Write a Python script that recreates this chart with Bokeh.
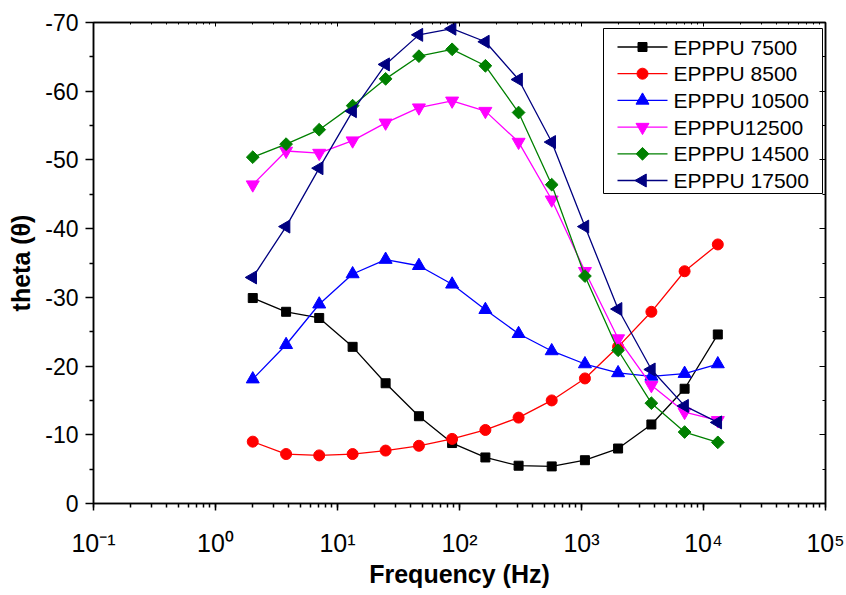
import math
from bokeh.plotting import figure
from bokeh.models import (Range1d, FixedTicker, LinearAxis, LogAxis, LogTicker,
                          LinearScale, CustomJSTickFormatter)
from bokeh.core.properties import value
from bokeh.embed import file_html
from bokeh.resources import INLINE

# ---- data ----
freq = [2.02, 3.79, 7.08, 13.3, 24.8, 46.5, 87.0, 163, 305, 570, 1067, 1995, 3740, 7000, 13100]
s7500 = [-29.9, -27.9, -27.0, -22.8, -17.5, -12.7, -8.8, -6.7, -5.5, -5.4, -6.3, -8.0, -11.5, -16.7, -24.6]
s8500 = [-9.0, -7.2, -7.0, -7.2, -7.7, -8.4, -9.4, -10.7, -12.5, -15.0, -18.2, -22.8, -27.9, -33.8, -37.7]
s10500 = [-18.1, -23.1, -29.0, -33.4, -35.5, -34.6, -31.9, -28.2, -24.7, -22.2, -20.3, -19.0, -18.5, -18.9, -20.3]
s12500 = [-46.4, -51.3, -51.0, -52.8, -55.4, -57.6, -58.6, -57.1, -52.6, -44.2, -33.8, -24.0, -17.2, -13.3, -12.1]
s14500 = [-50.4, -52.3, -54.4, -57.9, -61.8, -65.1, -66.1, -63.7, -56.9, -46.4, -33.1, -22.3, -14.6, -10.4, -8.9]
s17500 = [-32.9, -40.3, -48.8, -57.1, -63.9, -68.2, -69.1, -67.2, -61.7, -52.6, -40.3, -28.3, -19.5, -14.2, -11.8]
series_names = ["EPPPU 7500", "EPPPU 8500", "EPPPU 10500", "EPPPU12500", "EPPPU 14500", "EPPPU 17500"]
y_ticks = [0, -10, -20, -30, -40, -50, -60, -70]
y_tick_labels = ["0", "-10", "-20", "-30", "-40", "-50", "-60", "-70"]
y_minor = [-5, -15, -25, -35, -45, -55, -65]
x_exponents = [-1, 0, 1, 2, 3, 4, 5]
x_tick_labels = ["10\u207b\u00b9", "10\u2070", "10\u00b9", "10\u00b2", "10\u00b3", "10\u2074", "10\u2075"]
x_label = "Frequency (Hz)"
y_label = "theta (\u03b8)"

FONT = "Liberation Sans"
FW, FH = 732, 481  # frame size in px

p = figure(width=846, height=595, x_axis_type="log",
           x_range=Range1d(0.1, 1e5), y_range=Range1d(0, -70),
           output_backend="svg", toolbar_location=None,
           min_border_left=93, min_border_right=21, min_border_top=22,
           min_border_bottom=92)
p.extra_x_ranges = {"px": Range1d(0, FW)}
p.extra_y_ranges = {"px": Range1d(0, FH)}
p.extra_x_scales = {"px": LinearScale()}
p.extra_y_scales = {"px": LinearScale()}
p.grid.visible = False
p.outline_line_color = "black"
p.outline_line_width = 1.5

# y axis
ya = p.yaxis[0]
ya.ticker = FixedTicker(ticks=y_ticks, minor_ticks=y_minor)
ya.major_label_overrides = {t: s for t, s in zip(y_ticks, y_tick_labels)}
ya.major_tick_out = 8
ya.major_tick_in = 0
ya.minor_tick_out = 4
ya.minor_tick_in = 0
ya.axis_line_width = 1.5
ya.major_tick_line_width = 1.5
ya.minor_tick_line_width = 1.5
ya.major_label_text_font = FONT
ya.major_label_text_font_size = "23px"
ya.major_label_text_color = "black"
ya.major_label_standoff = 7
ya.axis_label = y_label
ya.axis_label_text_font = FONT
ya.axis_label_text_font_style = "bold"
ya.axis_label_text_font_size = "25px"
ya.axis_label_text_color = "black"
ya.axis_label_standoff = 7

# x axis
xa = p.xaxis[0]
xa.ticker = LogTicker(desired_num_ticks=7, num_minor_ticks=10)
xa.formatter = CustomJSTickFormatter(
    args=dict(exps=x_exponents, labs=x_tick_labels),
    code="""
const e = Math.round(Math.log10(tick));
const i = exps.indexOf(e);
return i >= 0 ? labs[i] : "";
""")
xa.major_tick_out = 7
xa.major_tick_in = 0
xa.minor_tick_out = 4
xa.minor_tick_in = 0
xa.axis_line_width = 1.5
xa.major_tick_line_width = 1.5
xa.minor_tick_line_width = 1.5
xa.major_label_text_font = FONT
xa.major_label_text_font_size = "25px"
xa.major_label_text_color = "black"
xa.major_label_standoff = 18
xa.axis_label = x_label
xa.axis_label_text_font = FONT
xa.axis_label_text_font_style = "bold"
xa.axis_label_text_font_size = "25px"
xa.axis_label_text_color = "black"
xa.axis_label_standoff = 0

# mirror axes
ra = LinearAxis(ticker=FixedTicker(ticks=y_ticks, minor_ticks=y_minor),
                major_label_text_font_size="1px", major_label_text_alpha=0,
                major_label_standoff=0, major_tick_in=6, major_tick_out=0,
                minor_tick_in=3, minor_tick_out=0, axis_line_width=1.5,
                major_tick_line_width=1.2, minor_tick_line_width=1.2)
p.add_layout(ra, "right")
ta = LogAxis(ticker=LogTicker(desired_num_ticks=7, num_minor_ticks=10),
             major_label_text_font_size="1px", major_label_text_alpha=0,
             major_label_standoff=0, major_tick_in=4, major_tick_out=0,
             minor_tick_in=2, minor_tick_out=0, axis_line_width=1.5,
             major_tick_line_width=1.0, minor_tick_line_width=1.0)
p.add_layout(ta, "above")

colors = ["black", "#FF0000", "#0000FF", "#FF00FF", "#008000", "#000080"]
markers = ["square", "circle", "triangle", "inverted_triangle", "square", "triangle"]
angles = [0, 0, 0, 0, math.pi / 4, math.pi / 2]
sizes = [9, 11, 13, 13, 9, 13]
data = [s7500, s8500, s10500, s12500, s14500, s17500]

for ys, c, m, a, s in zip(data, colors, markers, angles, sizes):
    p.line(freq, ys, line_color=c, line_width=1.3)
    p.scatter(freq, ys, marker=m, angle=a, size=s, fill_color=c, line_color=c)

# ---- legend (drawn in frame pixel space) ----
LEG_LEFT, LEG_RIGHT, LEG_TOP, LEG_BOTTOM = 510, 729, 475, 310
ROW0, ROW_STEP = 456.5, 26.7
LINE_X0, LINE_X1, MARK_X, TEXT_X = 524, 574, 549, 580
p.quad(left=[LEG_LEFT], right=[LEG_RIGHT], top=[LEG_TOP], bottom=[LEG_BOTTOM],
       fill_color="white", line_color="black", line_width=1,
       x_range_name="px", y_range_name="px")
for i, (name, c, m, a, s) in enumerate(zip(series_names, colors, markers, angles, sizes)):
    ry = ROW0 - i * ROW_STEP
    p.segment(x0=[LINE_X0], y0=[ry], x1=[LINE_X1], y1=[ry], line_color=c, line_width=1.3,
              x_range_name="px", y_range_name="px")
    p.scatter(x=[MARK_X], y=[ry], marker=m, angle=a, size=s, fill_color=c, line_color=c,
              x_range_name="px", y_range_name="px")
    p.text(x=[TEXT_X], y=[ry], text=[name], text_font=value(FONT), text_font_size="21px",
           text_baseline="middle", text_align="left", text_color="black",
           x_range_name="px", y_range_name="px")

open("out.html", "w").write(file_html(p, INLINE))
